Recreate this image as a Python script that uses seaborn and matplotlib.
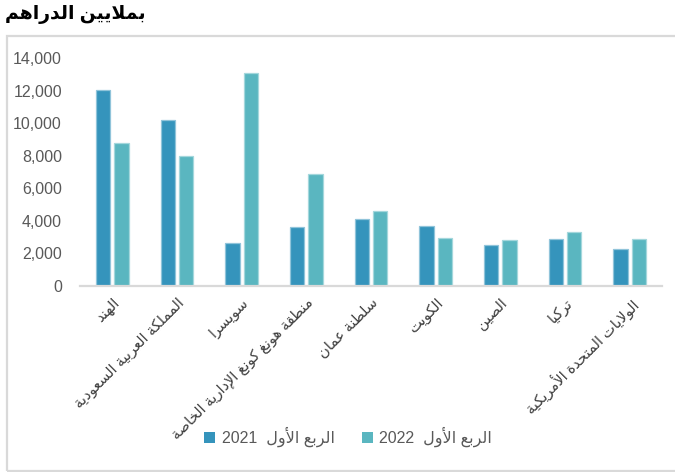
import matplotlib
matplotlib.use("Agg")
import matplotlib.pyplot as plt
from matplotlib.patches import Rectangle
import matplotlib.colors as mcolors
import numpy as np
import pandas as pd
import seaborn as sns

# ---------------------------------------------------------------- data
countries = [
    "الهند",
    "المملكة العربية السعودية",
    "سويسرا",
    "منطقة هونغ كونغ الإدارية الخاصة",
    "سلطنة عمان",
    "الكويت",
    "الصين",
    "تركيا",
    "الولايات المتحدة الأمريكية",
]
q1_2021 = [12030, 10190, 2640, 3600, 4135, 3700, 2540, 2890, 2250]
q1_2022 = [8760, 7960, 13060, 6860, 4600, 2970, 2830, 3300, 2890]
years = ["2021", "2022"]
period_label = "الربع الأول"
title_text = "بملايين الدراهم"
yticks = [0, 2000, 4000, 6000, 8000, 10000, 12000, 14000]

colors = ["#3594BC", "#5AB6C0"]
text_gray = "#595959"
line_gray = "#D9D9D9"

# ------------------------------------------------ arabic contextual shaping
# (letter, first presentation-form codepoint, number of forms)
_letters = [
    ("\u0621", 0xFE80, 1), ("\u0622", 0xFE81, 2), ("\u0623", 0xFE83, 2),
    ("\u0624", 0xFE85, 2), ("\u0625", 0xFE87, 2), ("\u0626", 0xFE89, 4),
    ("\u0627", 0xFE8D, 2), ("\u0628", 0xFE8F, 4), ("\u0629", 0xFE93, 2),
    ("\u062A", 0xFE95, 4), ("\u062B", 0xFE99, 4), ("\u062C", 0xFE9D, 4),
    ("\u062D", 0xFEA1, 4), ("\u062E", 0xFEA5, 4), ("\u062F", 0xFEA9, 2),
    ("\u0630", 0xFEAB, 2), ("\u0631", 0xFEAD, 2), ("\u0632", 0xFEAF, 2),
    ("\u0633", 0xFEB1, 4), ("\u0634", 0xFEB5, 4), ("\u0635", 0xFEB9, 4),
    ("\u0636", 0xFEBD, 4), ("\u0637", 0xFEC1, 4), ("\u0638", 0xFEC5, 4),
    ("\u0639", 0xFEC9, 4), ("\u063A", 0xFECD, 4), ("\u0641", 0xFED1, 4),
    ("\u0642", 0xFED5, 4), ("\u0643", 0xFED9, 4), ("\u0644", 0xFEDD, 4),
    ("\u0645", 0xFEE1, 4), ("\u0646", 0xFEE5, 4), ("\u0647", 0xFEE9, 4),
    ("\u0648", 0xFEED, 2), ("\u0649", 0xFEEF, 2), ("\u064A", 0xFEF1, 4),
]
FORMS = {}
for ch, base, n in _letters:
    forms = [chr(base + k) for k in range(n)] + [None] * (4 - n)
    FORMS[ch] = tuple(forms)  # isolated, final, initial, medial

LAM_ALEF = {
    "\u0622": ("\uFEF5", "\uFEF6"),
    "\u0623": ("\uFEF7", "\uFEF8"),
    "\u0625": ("\uFEF9", "\uFEFA"),
    "\u0627": ("\uFEFB", "\uFEFC"),
}


def _links_forward(c):
    return c in FORMS and FORMS[c][2] is not None


def _links_backward(c):
    return c in FORMS and FORMS[c][1] is not None


def ar(text):
    """Shape Arabic letters and return them in visual (left-to-right) order."""
    out = []
    n = len(text)
    i = 0
    while i < n:
        c = text[i]
        if c not in FORMS:
            out.append(c)
            i += 1
            continue
        prev = text[i - 1] if i > 0 else None
        joined_prev = prev is not None and _links_forward(prev)
        if c == "\u0644" and i + 1 < n and text[i + 1] in LAM_ALEF:
            iso, fin = LAM_ALEF[text[i + 1]]
            out.append(fin if joined_prev else iso)
            i += 2
            continue
        nxt = text[i + 1] if i + 1 < n else None
        joined_next = _links_forward(c) and nxt is not None and _links_backward(nxt)
        iso, fin, ini, med = FORMS[c]
        if joined_prev and joined_next:
            g = med
        elif joined_prev:
            g = fin or iso
        elif joined_next:
            g = ini
        else:
            g = iso
        out.append(g)
        i += 1
    return "".join(reversed(out))


# ---------------------------------------------------------------- frame
df = pd.DataFrame({
    "country": countries * 2,
    "period": [years[0]] * len(countries) + [years[1]] * len(countries),
    "value": q1_2021 + q1_2022,
})

sns.set_theme(style="white")
plt.rcParams["font.family"] = ["Liberation Sans", "DejaVu Sans"]

W, H = 675, 472
fig = plt.figure(figsize=(W / 100, H / 100), dpi=100)
ax = fig.add_axes([80 / W, 1 - 286 / H, (662 - 80) / W, (286 - 58) / H])

sns.barplot(
    data=df, x="country", y="value", hue="period", order=countries,
    hue_order=years, palette=colors, width=0.57, gap=0.21,
    saturation=1, errorbar=None, legend=False, ax=ax,
)

for p in ax.patches:
    fc = np.array(mcolors.to_rgb(p.get_facecolor()))
    p.set_edgecolor(tuple(fc + (1 - fc) * 0.45))
    p.set_linewidth(0.9)

ax.set_ylim(0, 14000)
ax.set_xlim(-0.5, len(countries) - 0.5)
ax.set_yticks(yticks)
ax.set_yticklabels([f"{v:,}" for v in yticks], color=text_gray, fontsize=11.5)
ax.tick_params(axis="y", length=0, pad=13)
ax.tick_params(axis="x", length=0, pad=7)
ax.set_xticks(range(len(countries)))
ax.set_xticklabels([ar(c) for c in countries], rotation=45, ha="right",
                   va="top", rotation_mode="anchor", color="#404040",
                   fontsize=10.5)
ax.set_xlabel("")
ax.set_ylabel("")
for side in ("left", "right", "top"):
    ax.spines[side].set_visible(False)
ax.spines["bottom"].set_color(line_gray)
ax.spines["bottom"].set_linewidth(1.6)
ax.grid(False)

# legend
handles = [Rectangle((0, 0), 1, 1, facecolor=c, edgecolor="none") for c in colors]
labels = [f"{y}  " + ar(period_label) for y in years]
fig.legend(handles, labels, loc="center", bbox_to_anchor=(348 / W, 1 - 437 / H),
           ncol=2, frameon=False, fontsize=11.5, handlelength=0.7,
           handleheight=0.7, handletextpad=0.4, columnspacing=1.7,
           labelcolor=text_gray)

# chart frame
fig.patches.append(Rectangle((7 / W, 1.5 / H), 1.2, (471 - 36) / H,
                             transform=fig.transFigure, fill=False,
                             edgecolor=line_gray, linewidth=1.6, zorder=0))

fig.text(5 / W, 1 - 15 / H, ar(title_text), ha="left", va="center",
         fontsize=13.5, fontweight="bold", color="black")

fig.savefig("out.png", dpi=100, facecolor="white")
